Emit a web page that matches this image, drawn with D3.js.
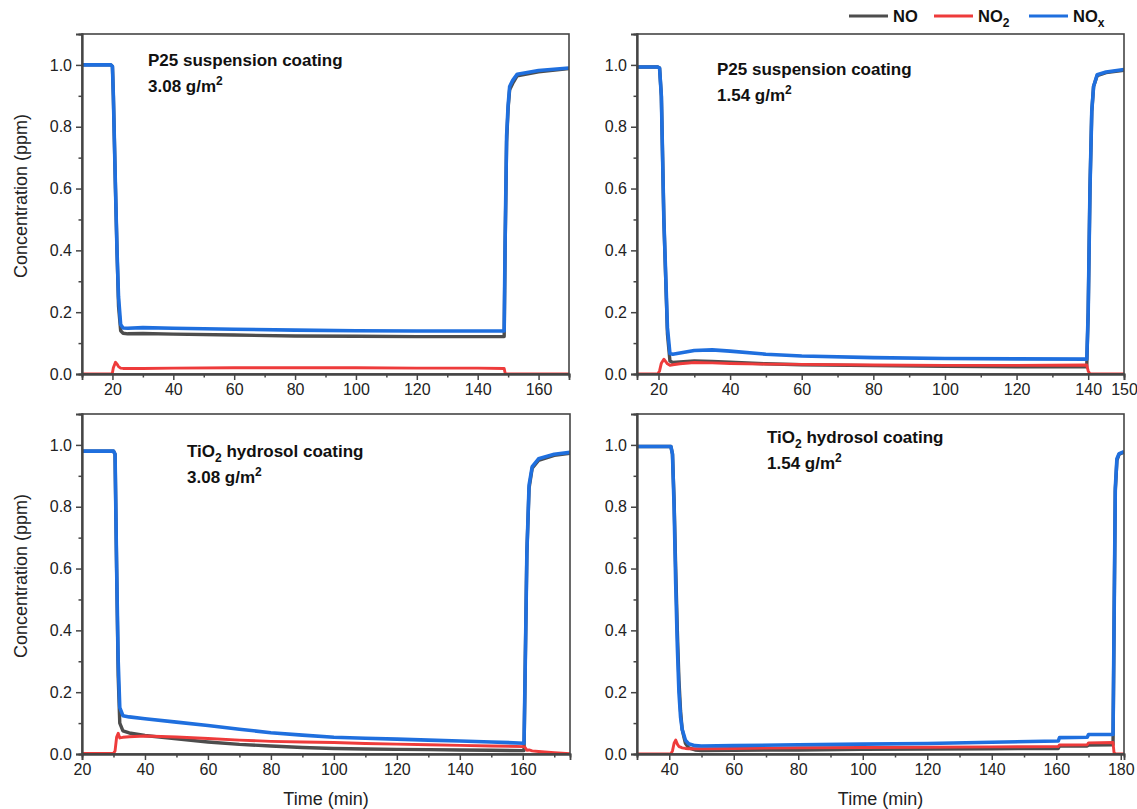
<!DOCTYPE html>
<html>
<head>
<meta charset="utf-8">
<script src="https://cdn.jsdelivr.net/npm/d3@7"></script>
<style>
  html, body { margin: 0; padding: 0; background: #fff; }
  svg { display: block; font-family: "Liberation Sans", Arial, sans-serif; }
</style>
</head>
<body>
<svg id="chart" width="1137" height="809"></svg>
<script>
// ---------------- DATA ----------------
const seriesNames = ["NO", "NO2", "NOx"];
const seriesColors = { NO: "#4d4d4d", NO2: "#ee3b3b", NOx: "#1f6fde" };

// Panel 1: P25 suspension coating, 3.08 g/m2
const p1Time = [10, 19.5, 20, 20.3, 21, 21.5, 22, 22.7, 23.5, 25, 30, 40, 60, 80, 100, 120, 140, 148.7, 149, 149.5, 150, 150.5, 151.5, 153, 160, 170];
const p1NO   = [1.0, 1.0, 0.995, 0.9, 0.6, 0.4, 0.22, 0.14, 0.132, 0.13, 0.131, 0.129, 0.126, 0.123, 0.122, 0.121, 0.121, 0.121, 0.4, 0.75, 0.86, 0.92, 0.94, 0.965, 0.978, 0.988];
const p1NO2  = [0, 0, 0.004, 0.02, 0.038, 0.032, 0.024, 0.019, 0.018, 0.018, 0.018, 0.019, 0.02, 0.02, 0.02, 0.019, 0.019, 0.018, 0.004, 0, 0, 0, 0, 0, 0, 0];
const p1NOx  = [1.0, 1.0, 0.995, 0.9, 0.6, 0.4, 0.25, 0.16, 0.149, 0.148, 0.15, 0.148, 0.145, 0.142, 0.14, 0.139, 0.139, 0.139, 0.42, 0.77, 0.87, 0.93, 0.95, 0.97, 0.982, 0.99];

// Panel 2: P25 suspension coating, 1.54 g/m2
const p2Time = [14, 19.8, 20.3, 20.8, 21.5, 22.5, 23.2, 24, 26, 30, 35, 40, 50, 60, 80, 100, 120, 139.6, 140, 140.5, 141, 141.5, 142.5, 145, 150];
const p2NO   = [0.993, 0.993, 0.99, 0.9, 0.5, 0.13, 0.042, 0.037, 0.039, 0.042, 0.041, 0.038, 0.033, 0.03, 0.027, 0.025, 0.023, 0.023, 0.2, 0.6, 0.85, 0.93, 0.965, 0.975, 0.983];
const p2NO2  = [0, 0, 0.01, 0.035, 0.048, 0.033, 0.028, 0.03, 0.033, 0.037, 0.036, 0.034, 0.032, 0.031, 0.029, 0.028, 0.028, 0.029, 0.01, 0, 0, 0, 0, 0, 0];
const p2NOx  = [0.993, 0.993, 0.99, 0.9, 0.5, 0.15, 0.066, 0.064, 0.068, 0.076, 0.078, 0.074, 0.064, 0.058, 0.053, 0.05, 0.049, 0.048, 0.2, 0.6, 0.85, 0.93, 0.968, 0.977, 0.985];

// Panel 3: TiO2 hydrosol coating, 3.08 g/m2
const p3Time = [20, 30, 30.5, 31, 31.5, 32, 33, 35, 40, 50, 60, 70, 80, 90, 100, 110, 120, 130, 140, 150, 160.4, 160.8, 161.3, 162, 163, 165, 170, 175];
const p3NO   = [0.98, 0.98, 0.97, 0.6, 0.25, 0.1, 0.075, 0.068, 0.06, 0.049, 0.039, 0.031, 0.026, 0.021, 0.018, 0.016, 0.015, 0.014, 0.013, 0.012, 0.011, 0.3, 0.65, 0.86, 0.925, 0.95, 0.966, 0.973];
const p3NO2  = [0.002, 0.002, 0.01, 0.055, 0.067, 0.052, 0.054, 0.056, 0.058, 0.055, 0.05, 0.045, 0.041, 0.039, 0.037, 0.034, 0.032, 0.03, 0.028, 0.026, 0.024, 0.02, 0.012, 0.013, 0.01, 0.008, 0.004, 0.001];
const p3NOx  = [0.98, 0.98, 0.97, 0.6, 0.3, 0.15, 0.124, 0.12, 0.114, 0.103, 0.092, 0.08, 0.069, 0.061, 0.054, 0.051, 0.048, 0.045, 0.042, 0.039, 0.035, 0.3, 0.65, 0.87, 0.93, 0.955, 0.97, 0.976];

// Panel 4: TiO2 hydrosol coating, 1.54 g/m2
const p4Time = [30, 40.5, 41, 41.5, 42, 42.5, 43, 43.5, 44, 45, 46, 48, 50, 60, 80, 100, 120, 140, 160.6, 161, 169.6, 170, 177.6, 177.9, 178.3, 178.8, 179.5, 181];
const p4NO   = [0.995, 0.995, 0.97, 0.82, 0.6, 0.4, 0.24, 0.14, 0.08, 0.035, 0.02, 0.013, 0.011, 0.012, 0.013, 0.015, 0.016, 0.017, 0.018, 0.026, 0.026, 0.029, 0.03, 0.4, 0.85, 0.95, 0.97, 0.977];
const p4NO2  = [0, 0, 0.01, 0.035, 0.045, 0.032, 0.024, 0.022, 0.02, 0.018, 0.017, 0.017, 0.017, 0.018, 0.02, 0.021, 0.022, 0.023, 0.024, 0.029, 0.03, 0.036, 0.037, 0.005, 0, 0, 0, 0];
const p4NOx  = [0.995, 0.995, 0.97, 0.8, 0.55, 0.35, 0.2, 0.12, 0.08, 0.045, 0.033, 0.027, 0.026, 0.027, 0.03, 0.032, 0.034, 0.038, 0.042, 0.053, 0.054, 0.063, 0.063, 0.4, 0.86, 0.955, 0.972, 0.978];

// Axis ticks
const p1XTicks = [20, 40, 60, 80, 100, 120, 140, 160];
const p2XTicks = [20, 40, 60, 80, 100, 120, 140, 150];
const p3XTicks = [20, 40, 60, 80, 100, 120, 140, 160];
const p4XTicks = [40, 60, 80, 100, 120, 140, 160, 180];
const yTicks = [0.0, 0.2, 0.4, 0.6, 0.8, 1.0];
const yMinorTicks = [0.1, 0.3, 0.5, 0.7, 0.9];

// Labels
const p1Label = ["P25 suspension coating", "3.08 g/m"];
const p2Label = ["P25 suspension coating", "1.54 g/m"];
const p3Label = ["TiO", "hydrosol coating", "3.08 g/m"];
const p4Label = ["TiO", "hydrosol coating", "1.54 g/m"];

// ---------------- LAYOUT ----------------
const svg = d3.select("#chart");
const frameColor = "#454545";

const panels = [
  { id: 1, time: p1Time, NO: p1NO, NO2: p1NO2, NOx: p1NOx, xDomain: [10, 170], xTicks: p1XTicks,
    x0: 82, x1: 569, y0: 34, y1: 374, label: p1Label, lx: 148, ly: 66, tio: false, left: true, bottom: false },
  { id: 2, time: p2Time, NO: p2NO, NO2: p2NO2, NOx: p2NOx, xDomain: [14, 150], xTicks: p2XTicks,
    x0: 637, x1: 1124, y0: 34, y1: 374, label: p2Label, lx: 717, ly: 75, tio: false, left: false, bottom: false },
  { id: 3, time: p3Time, NO: p3NO, NO2: p3NO2, NOx: p3NOx, xDomain: [20, 175], xTicks: p3XTicks,
    x0: 82, x1: 570, y0: 414, y1: 754, label: p3Label, lx: 187, ly: 457, tio: true, left: true, bottom: true },
  { id: 4, time: p4Time, NO: p4NO, NO2: p4NO2, NOx: p4NOx, xDomain: [30, 181], xTicks: p4XTicks,
    x0: 637, x1: 1124, y0: 414, y1: 754, label: p4Label, lx: 767, ly: 443, tio: true, left: false, bottom: true },
];

panels.forEach(p => {
  const x = d3.scaleLinear().domain(p.xDomain).range([p.x0, p.x1]);
  const y = d3.scaleLinear().domain([0, 1.1]).range([p.y1, p.y0]);
  const g = svg.append("g");

  const clipId = "clip" + p.id;
  svg.append("defs").append("clipPath").attr("id", clipId)
    .append("rect").attr("x", p.x0).attr("y", p.y0).attr("width", p.x1 - p.x0).attr("height", p.y1 - p.y0);

  // lines
  const lineG = g.append("g").attr("clip-path", `url(#${clipId})`);
  const widths = { NO: 3.4, NO2: 2.9, NOx: 3.6 };
  seriesNames.forEach(s => {
    const data = p.time.map((t, i) => [t, p[s][i]]);
    const line = d3.line().x(d => x(d[0])).y(d => y(d[1]));
    lineG.append("path").datum(data)
      .attr("d", line)
      .attr("fill", "none")
      .attr("stroke", seriesColors[s])
      .attr("stroke-width", widths[s])
      .attr("stroke-linejoin", "round");
  });

  // frame
  g.append("rect").attr("x", p.x0).attr("y", p.y0).attr("width", p.x1 - p.x0).attr("height", p.y1 - p.y0)
    .attr("fill", "none").attr("stroke", frameColor).attr("stroke-width", 1.6);

  // x axis
  const xMinor = d3.range(Math.ceil(p.xDomain[0] / 10) * 10, p.xDomain[1] + 0.001, 10)
    .filter(v => !p.xTicks.includes(v));
  const xAx = g.append("g").attr("transform", `translate(0,${p.y1})`)
    .call(d3.axisBottom(x).tickValues(p.xTicks).tickSize(6).tickPadding(4).tickFormat(d3.format("d")));
  const xAxMin = g.append("g").attr("transform", `translate(0,${p.y1})`)
    .call(d3.axisBottom(x).tickValues(xMinor).tickSize(3.5).tickFormat(""));
  // y axis
  const yAx = g.append("g").attr("transform", `translate(${p.x0},0)`)
    .call(d3.axisLeft(y).tickValues(yTicks).tickSize(6).tickPadding(4).tickFormat(d3.format(".1f")));
  const yAxMin = g.append("g").attr("transform", `translate(${p.x0},0)`)
    .call(d3.axisLeft(y).tickValues(yMinorTicks).tickSize(3.5).tickFormat(""));
  [xAx, xAxMin, yAx, yAxMin].forEach(a => {
    a.select(".domain").attr("stroke", frameColor).attr("stroke-width", 1.8);
    a.selectAll(".tick line").attr("stroke", frameColor).attr("stroke-width", 1.5);
    a.selectAll(".tick text").attr("fill", "#222").style("font-size", "16px")
      .style("font-family", "'Liberation Sans', Arial, sans-serif");
  });

  // annotation labels
  const t1 = g.append("text").attr("x", p.lx).attr("y", p.ly)
    .attr("font-weight", "bold").attr("font-size", 17).attr("fill", "#111");
  let line2;
  if (p.tio) {
    t1.append("tspan").text(p.label[0]);
    t1.append("tspan").text("2").attr("font-size", 12).attr("dy", 5);
    t1.append("tspan").text(" " + p.label[1]).attr("dy", -5);
    line2 = p.label[2];
  } else {
    t1.text(p.label[0]);
    line2 = p.label[1];
  }
  const t2 = g.append("text").attr("x", p.lx).attr("y", p.ly + 26)
    .attr("font-weight", "bold").attr("font-size", 17).attr("fill", "#111");
  t2.append("tspan").text(line2);
  t2.append("tspan").text("2").attr("font-size", 12).attr("dy", -7);

  // axis titles
  if (p.left) {
    svg.append("text")
      .attr("transform", `translate(27,${(p.y0 + p.y1) / 2 - 8}) rotate(-90)`)
      .attr("text-anchor", "middle").attr("font-size", 18).attr("fill", "#222")
      .text("Concentration (ppm)");
  }
  if (p.bottom) {
    svg.append("text")
      .attr("x", (p.x0 + p.x1) / 2).attr("y", 805)
      .attr("text-anchor", "middle").attr("font-size", 18).attr("fill", "#222")
      .text("Time (min)");
  }
});

// ---------------- LEGEND ----------------
const legendItems = [
  { key: "NO", x: 849, main: "NO", sub: "" },
  { key: "NO2", x: 934, main: "NO", sub: "2" },
  { key: "NOx", x: 1029, main: "NO", sub: "x" },
];
const leg = svg.append("g");
legendItems.forEach(it => {
  leg.append("line").attr("x1", it.x).attr("x2", it.x + 39).attr("y1", 16).attr("y2", 16)
    .attr("stroke", seriesColors[it.key]).attr("stroke-width", 3);
  const t = leg.append("text").attr("x", it.x + 44).attr("y", 22)
    .attr("font-weight", "bold").attr("font-size", 16.5).attr("fill", "#111");
  t.append("tspan").text(it.main);
  if (it.sub) t.append("tspan").text(it.sub).attr("font-size", 12).attr("dy", 5);
});
</script>
</body>
</html>
